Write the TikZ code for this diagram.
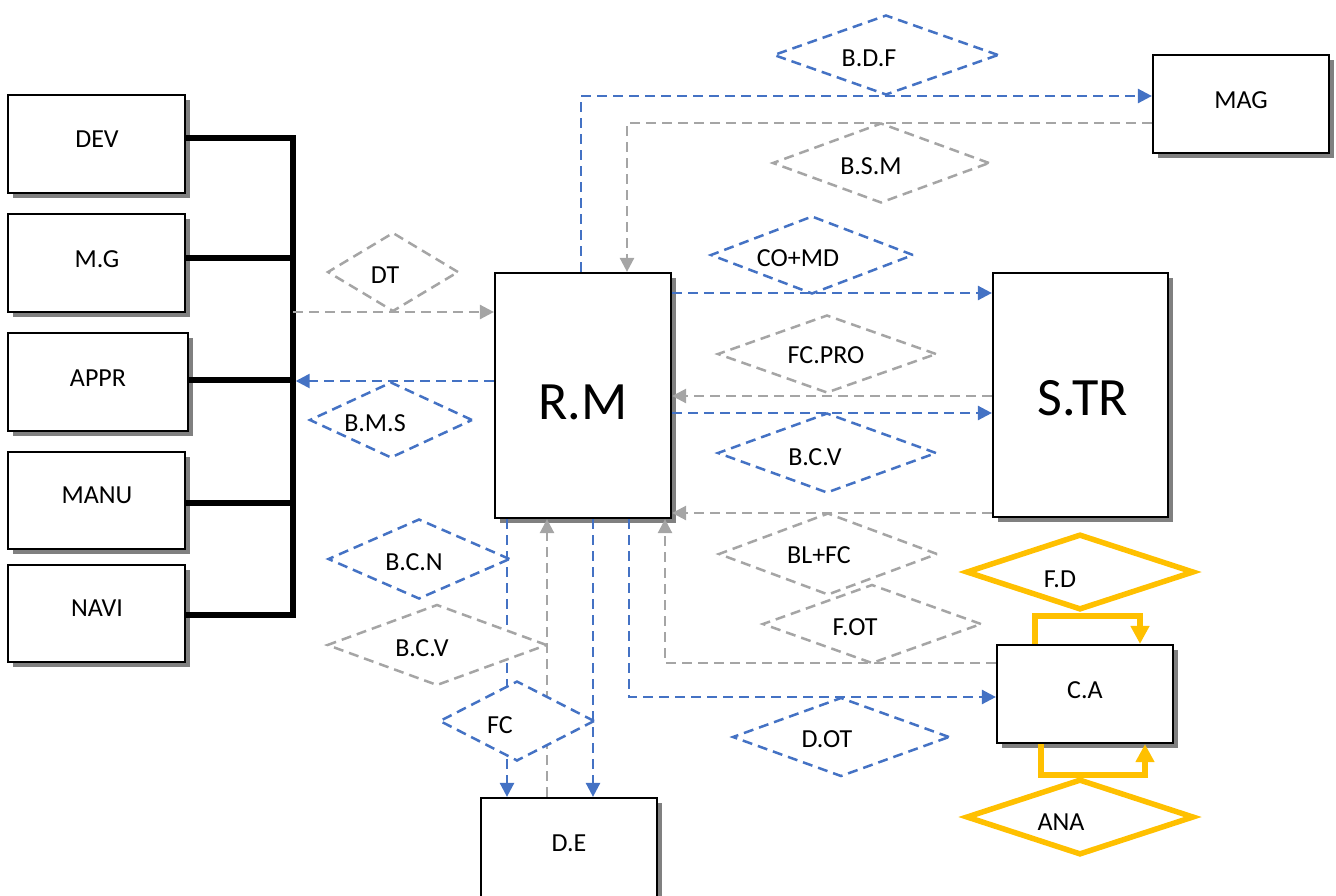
\documentclass[tikz,border=0pt]{standalone}
\usepackage{fontspec}
\setmainfont{Carlito}
\usetikzlibrary{arrows.meta,shapes.geometric,shadows}
\definecolor{cblue}{HTML}{4472C4}
\definecolor{cgray}{HTML}{A5A5A5}
\definecolor{cyel}{HTML}{FFC000}
\definecolor{cshadow}{HTML}{808080}
\begin{document}
\begin{tikzpicture}[x=1pt,y=-1pt,
  box/.style={draw=black, line width=2.2pt, fill=white, inner sep=0pt,
    drop shadow={shadow xshift=5pt, shadow yshift=-5pt, fill=cshadow, opacity=1}},
  lbl/.style={font=\fontsize{26}{30}\selectfont, inner sep=0pt},
  biglbl/.style={font=\fontsize{54}{60}\selectfont, inner sep=0pt},
  dia/.style={diamond, line width=2.5pt, fill=white, inner sep=0pt, dash pattern=on 10pt off 6pt},
  bdia/.style={dia, draw=cblue},
  gdia/.style={dia, draw=cgray},
  ydia/.style={diamond, draw=cyel, line width=5.5pt, fill=white, inner sep=0pt},
  con/.style={line width=2.5pt, dash pattern=on 10pt off 6pt, -{Triangle[length=14pt,width=14pt]}},
  bcon/.style={con, cblue},
  gcon/.style={con, cgray},
  ycon/.style={cyel, line width=5.5pt, line join=miter, -{Triangle[length=18pt,width=18pt]}},
  busline/.style={line width=5.5pt, black, line join=miter}]
\useasboundingbox (0,0) rectangle (1336,895);
\clip (0,0) rectangle (1336,895);

% boxes
\node[box, minimum width=177pt, minimum height=98pt] (dev) at (96.5,144) {};
\node[box, minimum width=177pt, minimum height=98pt] (mg) at (96.5,263) {};
\node[box, minimum width=180pt, minimum height=98pt] (appr) at (98,382) {};
\node[box, minimum width=177pt, minimum height=97pt] (manu) at (96.5,500.5) {};
\node[box, minimum width=177pt, minimum height=97pt] (navi) at (96.5,613.5) {};
\node[box, minimum width=176pt, minimum height=245pt] (rm) at (583,395.5) {};
\node[box, minimum width=175pt, minimum height=244pt] (str) at (1080.5,395) {};
\node[box, minimum width=176pt, minimum height=98pt] (mag) at (1241,104) {};
\node[box, minimum width=176pt, minimum height=98pt] (ca) at (1085,694) {};
\node[box, minimum width=176pt, minimum height=130pt] (de) at (569,863) {};

% bus
\coordinate (busT) at (293,138);
\coordinate (busB) at (293,615);
\draw[busline] (dev.east |- busT) -- (busT) -- (busB) -- (navi.east |- busB);
\draw[busline] (mg.east |- 0,258) -- (busT |- 0,258);
\draw[busline] (appr.east |- 0,380) -- (busT |- 0,380);
\draw[busline] (manu.east |- 0,503) -- (busT |- 0,503);

% connectors
\draw[gcon] (busT |- 0,312) -- (rm.west |- 0,312);
\draw[bcon, shorten >=2.7pt] (rm.west |- 0,381) -- (busT |- 0,381);
\draw[bcon] (rm.north -| 581,0) |- (mag.west |- 0,96);
\draw[gcon] (mag.west |- 0,123) -| (rm.north -| 627,0);
\draw[bcon] (rm.east |- 0,293) -- (str.west |- 0,293);
\draw[gcon] (str.west |- 0,396) -- (rm.east |- 0,396);
\draw[bcon] (rm.east |- 0,413) -- (str.west |- 0,413);
\draw[gcon] (str.west |- 0,513) -- (rm.east |- 0,513);
\draw[gcon] (ca.west |- 0,663) -| (rm.south -| 665,0);
\draw[bcon] (rm.south -| 629,0) |- (ca.west |- 0,697);
\draw[bcon] (rm.south -| 507,0) -- (de.north -| 507,0);
\draw[gcon] (de.north -| 547,0) -- (rm.south -| 547,0);
\draw[bcon] (rm.south -| 593,0) -- (de.north -| 593,0);

% diamonds
\node[gdia, minimum width=131pt, minimum height=79pt] (dt) at (393,272) {};
\node[bdia, minimum width=163pt, minimum height=76pt] (bms) at (391,420) {};
\node[bdia, minimum width=225pt, minimum height=80pt] (bdf) at (886,55) {};
\node[gdia, minimum width=217pt, minimum height=80pt] (bsm) at (881,163) {};
\node[bdia, minimum width=203pt, minimum height=78pt] (comd) at (812,255) {};
\node[gdia, minimum width=219pt, minimum height=78pt] (fcpro) at (827,354) {};
\node[bdia, minimum width=219pt, minimum height=80pt] (bcvr) at (827,453) {};
\node[gdia, minimum width=219pt, minimum height=82pt] (blfc) at (828,554) {};
\node[gdia, minimum width=219pt, minimum height=79pt] (fot) at (872,624) {};
\node[bdia, minimum width=217pt, minimum height=79pt] (dot) at (841,737) {};
\node[bdia, minimum width=182pt, minimum height=80pt] (bcn) at (419,559) {};
\node[gdia, minimum width=220pt, minimum height=81pt] (bcvl) at (437,645) {};
\node[bdia, minimum width=155pt, minimum height=80pt] (fc) at (517,721) {};
\node[ydia, minimum width=228pt, minimum height=76pt] (fd) at (1080,572) {};
\node[ydia, minimum width=228pt, minimum height=76pt] (ana) at (1080,817) {};

% yellow loops
\draw[ycon] (ca.north -| 1035,0) -- ++(0,-28) -| (ca.north -| 1140,0);
\draw[ycon] (ca.south -| 1041,0) -- ++(0,31) -| (ca.south -| 1145,0);

% texts
\node[lbl] (dev-t) at (97,139) {DEV};
\node[lbl] (mg-t) at (97,259) {M.G};
\node[lbl] (appr-t) at (98,378) {APPR};
\node[lbl] (manu-t) at (97,495) {MANU};
\node[lbl] (navi-t) at (97,608) {NAVI};
\node[biglbl] (rm-t) at (583,402) {R.M};
\node[biglbl] (str-t) at (1083,398) {S.TR};
\node[lbl] (mag-t) at (1241,100) {MAG};
\node[lbl] (ca-t) at (1085,690) {C.A};
\node[lbl] (de-t) at (569,843) {D.E};
\node[lbl] (dt-t) at (385,275) {DT};
\node[lbl] (bms-t) at (375,423) {B.M.S};
\node[lbl] (bdf-t) at (869,58) {B.D.F};
\node[lbl] (bsm-t) at (871,166) {B.S.M};
\node[lbl] (comd-t) at (798,258) {CO+MD};
\node[lbl] (fcpro-t) at (826,355) {FC.PRO};
\node[lbl] (bcvr-t) at (815,457) {B.C.V};
\node[lbl] (blfc-t) at (819,555) {BL+FC};
\node[lbl] (fot-t) at (855,627) {F.OT};
\node[lbl] (dot-t) at (827,739) {D.OT};
\node[lbl] (bcn-t) at (414,562) {B.C.N};
\node[lbl] (bcvl-t) at (422,648) {B.C.V};
\node[lbl] (fc-t) at (500,725) {FC};
\node[lbl] (fd-t) at (1060,579) {F.D};
\node[lbl] (ana-t) at (1061,822) {ANA};
\end{tikzpicture}
\end{document}
